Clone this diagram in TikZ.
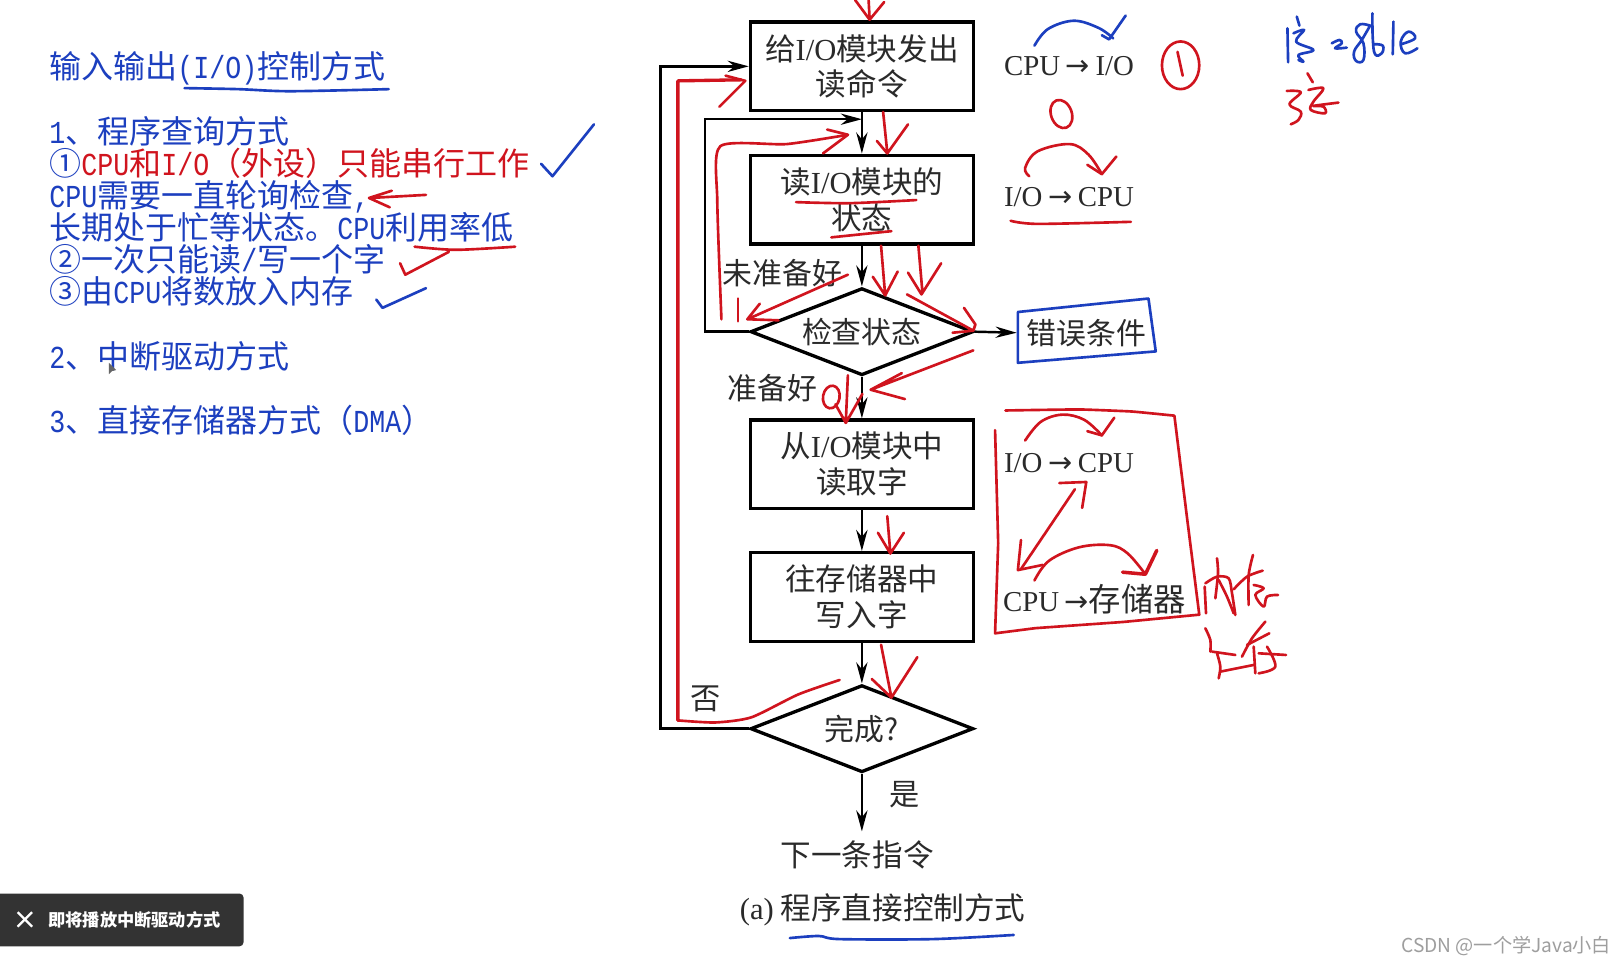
\documentclass[tikz,border=0pt]{standalone}
\usepackage{fontspec}
\setmainfont{Noto Sans CJK SC}
\newfontfamily\tm{Liberation Serif}
\newfontfamily\hf[FakeStretch=0.833]{Liberation Mono}
\newfontfamily\arf{DejaVu Sans}
\usetikzlibrary{shapes.geometric,arrows.meta}
\definecolor{pblue}{HTML}{1C3FBF}
\definecolor{pred}{HTML}{D0141E}
\definecolor{ink}{HTML}{2A2A2A}
\newcommand{\fs}[1]{\fontsize{#1}{#1}\selectfont}
\newcommand{\sidearrow}{\kern1.6pt{\arf →}\kern1.6pt}
\tikzset{
  hr/.style={draw=pred,line width=.75pt,line cap=round,line join=round},
  hb/.style={draw=pblue,line width=.75pt,line cap=round,line join=round},
  leftline/.style={anchor=west,inner sep=0pt,text=pblue,font=\fs{9.1},text height=7.8pt,text depth=1.3pt},
  stepbox/.style={draw=black,line width=.95pt,inner sep=0pt,minimum width=2.228cm,minimum height=.886cm,align=center,text=ink,font=\fs{8.7}},
  decide/.style={diamond,draw=black,line width=.95pt,inner sep=0pt,aspect=2.56,minimum width=2.228cm,minimum height=.871cm,text=ink,font=\fs{8.5}},
  lbl/.style={inner sep=0pt,text=ink,font=\fs{8.6}},
  side/.style={inner sep=0pt,anchor=west,text=ink,font=\fs{8.2}\tm},
  conn/.style={draw=black,line width=.7pt,-{Stealth[length=6pt,width=3.2pt]}},
}
\begin{document}
\begin{tikzpicture}[x=0.010365cm,y=-0.010365cm]
\path[use as bounding box,fill=white] (0,0) rectangle (1560,926.2);

% --- left text
\node[leftline] (t0) at (47,65) {输入输出{\hf (I/O)}控制方式};
\node[leftline] (t1) at (47,127) {{\hf 1}、程序查询方式};
\node[leftline] (t2) at (47,158) {①\textcolor{pred}{{\hf CPU}和{\hf I/O}（外设）只能串行工作}};
\node[leftline] (t3) at (47,189) {{\hf CPU}需要一直轮询检查{\hf ,}};
\node[leftline] (t4) at (47,220) {长期处于忙等状态。{\hf CPU}利用率低};
\node[leftline] (t5) at (47,251) {②一次只能读{\hf /}写一个字};
\node[leftline] (t6) at (47,282) {③由{\hf CPU}将数放入内存};
\node[leftline] (t7) at (47,344) {{\hf 2}、中断驱动方式};
\node[leftline] (t8) at (47,406) {{\hf 3}、直接存储器方式（{\hf DMA}）};

% --- flow chart
\node[stepbox] (b1) at (831.5,64) {给{\tm I/O}模块发出\\[1.5pt]读命令};
\node[stepbox] (b2) at (831.5,192.5) {读{\tm I/O}模块的\\[1.5pt]状态};
\node[decide] (d1) at (831.5,320) {检查状态};
\node[stepbox] (b3) at (831.5,448) {从{\tm I/O}模块中\\[1.5pt]读取字};
\node[stepbox] (b4) at (831.5,576) {往存储器中\\[1.5pt]写入字};
\node[decide] (d2) at (831.5,703) {完成?};
\node[lbl,font=\fs{8.5},inner xsep=2.6pt] (err) at (1048,321) {错误条件};
\node[lbl,font=\fs{8.7},inner ysep=2.5pt] (nxt) at (827,825) {下一条指令};
\node[lbl,font=\fs{8.7}] (cap) at (851.5,878) {{\tm (a)} 程序直接控制方式};
\node[lbl,font=\fs{8.5}] (no1) at (755,263) {未准备好};
\node[lbl,font=\fs{8.5}] (ok1) at (745,374) {准备好};
\node[lbl] (no2) at (681,674) {否};
\node[lbl] (yes) at (873,767) {是};
\coordinate (m1) at (831.5,115);

\draw[conn] (b1.south) -- (b2.north);
\draw[conn] (b2.south) -- (d1.north);
\draw[conn] (d1.south) -- (b3.north);
\draw[conn] (b3.south) -- (b4.north);
\draw[conn] (b4.south) -- (d2.north);
\draw[conn] (d2.south) -- (d2.south |- nxt.north);
\draw[conn] (d1.east) -- (err.west);
\draw[conn] (d1.west) -- ++(-42,0) |- (m1);
\draw[conn] (d2.west) -- ++(-85,0) |- (b1.west);

% --- side labels
\node[side] (s1) at (968,64) {CPU\sidearrow I/O};
\node[side] (s2) at (968,190) {I/O\sidearrow CPU};
\node[side] (s3) at (968,447) {I/O\sidearrow CPU};
\node[side] (s4) at (967,578) {CPU\kern1.6pt{\arf →}{\rmfamily\fs{9.2}存储器}};

% --- hand marks, left
\draw[hb] plot[smooth,tension=.5] coordinates {(178,85)(230,86)(280,88)(375,86)};
\draw[hb] (522,158) -- (533,170) -- (573,120);
\draw[hr] (411,188) -- (357,191) (378,184) -- (356,191) -- (376,200);
\draw[hr] plot[smooth,tension=.5] coordinates {(400,238)(440,241)(497,238)};
\draw[hr] (386,254) -- (391,265) -- (433,243);
\draw[hb] (363,289) -- (369,297) -- (411,278);
\fill[black!60] (105,350) -- (105,361) -- (108,358) -- (112,357) -- cycle;

% --- hand marks, chart
\draw[hr] (838,0) -- (839,19) (825,0) -- (839,19) -- (853,2);
\draw[hb] plot[smooth,tension=.6] coordinates {(998,44)(1011,28)(1036,20)(1060,27)(1074,37)};
\draw[hb] (1063,34) -- (1070,38) -- (1086,15);
\draw[hr] (1139,63) ellipse [x radius=18,y radius=23];
\draw[hr] (1136,50) -- (1141,73);
\draw[hr,rotate around={20:(1024,110)}] (1024,110) ellipse [x radius=10,y radius=14];
\draw[hr] plot[smooth,tension=.6] coordinates {(993,170)(989,162)(1001,146)(1032,139)(1050,149)(1063,168)};
\draw[hr] (1049,159) -- (1063,168) -- (1077,151);
\draw[hr] plot[smooth,tension=.5] coordinates {(975,213)(1001,216)(1091,214)};
\draw[hr] plot[smooth,tension=.5] coordinates {(768,195)(820,196)(884,193)};
\draw[hr] (802,229) -- (860,223);
\draw[hr] (852,108) -- (856,147) (846,136) -- (856,148) -- (876,120);
\draw[hr] plot[smooth,tension=.4] coordinates {(696,308)(692,194)(695,141)(759,139)(818,130)};
\draw[hr] (798,125) -- (818,130) -- (794,148);
\draw[hr] plot[smooth,tension=.4] coordinates {(810,656)(770,670)(725,692)(690,697)(654,695)};
\draw[hr,line width=.95pt] (654,695) -- (654,78) -- (715,77);
\draw[hr] (700,73) -- (719,78) -- (694,103);
\draw[hr] (712,288) -- (712,310);
\draw[hr] (818,265) -- (721,308) (733,293) -- (721,308) -- (751,309);
\draw[hr] (850,237) -- (854,285) (842,267) -- (854,285) -- (866,262);
\draw[hr] (886,237) -- (890,283) (876,263) -- (889,284) -- (908,254);
\draw[hr] (875,284) -- (939,319) (930,297) -- (941,313) -- (939,319) -- (919,321);
\draw[hr] (939,338) -- (840,376) (870,360) -- (840,376) -- (873,385);
\draw[hr,rotate around={-10:(802,383)}] (802,383) ellipse [x radius=8,y radius=11];
\draw[hr] (818,362) -- (816,407) (806,390) -- (816,408) -- (832,380);
\draw[hr] (856,498) -- (859,534) (847,514) -- (859,534) -- (872,514);
\draw[hr] (850,622) -- (860,673) (841,655) -- (860,673) -- (885,634);
\draw[hb] (982,301) -- (1108,288) -- (1115,339) -- (982,350) -- cycle;
\draw[hb] plot[smooth,tension=.5] coordinates {(762,905)(790,903)(810,906)(900,906)(978,902)};

% --- red frame and content
\draw[hr] plot[smooth,tension=.2] coordinates {(970,396)(1041,395)(1092,397)(1133,401)} -- (1145,498) -- (1157,593) -- (1084,600) -- (999,606) -- (960,611) -- (963,524) -- (960,415);
\draw[hr] plot[smooth,tension=.6] coordinates {(989,425)(1004,407)(1025,400)(1046,405)(1063,420)};
\draw[hr] (1049,416) -- (1063,420) -- (1075,403);
\draw[hr] (1037,472) -- (985,549);
\draw[hr] (1022,466) -- (1048,465) -- (1044,490);
\draw[hr] (985,521) -- (982,550) -- (1006,545);
\draw[hr] plot[smooth,tension=.6] coordinates {(998,560)(1012,541)(1041,528)(1071,526)(1088,534)(1105,554)};
\draw[hr,line width=1pt] (1083,552) -- (1105,554) -- (1116,531);

% --- handwriting: 内存 主存
\begin{scope}[shift={(1150,530.6)},scale=.3215]
\draw[hr] (38,110) -- (42,190);
\draw[hr] plot[smooth,tension=.5] coordinates {(40,100)(75,80)(110,85)(120,130)(130,195)};
\draw[hr] plot[smooth,tension=.5] coordinates {(75,25)(78,70)(70,145)};
\draw[hr] plot[smooth,tension=.5] coordinates {(80,90)(105,140)(125,190)};
\draw[hr] plot[smooth,tension=.5] coordinates {(125,118)(165,80)(212,62)};
\draw[hr] plot[smooth,tension=.5] coordinates {(183,15)(170,75)(170,165)};
\draw[hr] plot[smooth,tension=.6] coordinates {(185,105)(215,115)(190,135)(215,170)(225,140)(258,135)};
\draw[hr] plot[smooth,tension=.5] coordinates {(40,235)(55,270)(55,305)};
\draw[hr] (60,305) -- (130,315);
\draw[hr] plot[smooth,tension=.5] coordinates {(75,310)(85,350)(80,385)};
\draw[hr] (85,365) -- (185,345);
\draw[hr] plot[smooth,tension=.5] coordinates {(220,215)(180,265)(150,320)};
\draw[hr] (165,285) -- (232,250);
\draw[hr] (185,290) -- (190,370);
\draw[hr] (200,310) -- (282,315);
\draw[hr] plot[smooth,tension=.6] coordinates {(225,290)(250,350)(200,370)};
\end{scope}

% --- handwriting top right
\begin{scope}[shift={(1235,4.8)},scale=.3215]
\draw[hb] (22,70) -- (24,172);
\draw[hb] (50,35) -- (58,62);
\draw[hb] plot[smooth,tension=.6] coordinates {(40,85)(72,75)(48,110)(100,135)(55,150)(70,170)(55,165)};
\draw[hb] plot[smooth,tension=.6] coordinates {(155,115)(178,105)(185,115)(165,130)(200,128)};
\draw[hb] plot[smooth,tension=.7] coordinates {(270,62)(240,58)(228,80)(250,115)(250,165)(228,168)(222,140)(245,105)(270,62)};
\draw[hb] plot[smooth,tension=.7] coordinates {(277,25)(278,100)(285,148)(305,145)(308,122)(282,118)};
\draw[hb] (340,50) -- (338,148);
\draw[hb] plot[smooth,tension=.7] coordinates {(362,118)(405,100)(385,80)(362,110)(375,145)(412,130)};
\draw[hr] plot[smooth,tension=.6] coordinates {(20,258)(62,262)(28,298)(62,320)(55,345)(32,358)};
\draw[hr] (82,205) -- (98,232);
\draw[hr] plot[smooth,tension=.6] coordinates {(85,255)(130,250)(100,290)(92,315)(135,325)(130,305)(100,303)(175,293)};
\end{scope}

% --- player toast and watermark
\fill[fill=black!80] (0,862) -- (231,862) arc[start angle=-90,end angle=0,radius=4] -- (235,909) arc[start angle=0,end angle=90,radius=4] -- (0,913) -- cycle;
\draw[white,line width=.65pt] (17,880) -- (31,894) (31,880) -- (17,894);
\node[inner sep=0pt,anchor=west,text=white,font=\fs{4.9}\bfseries] (toast) at (46,887.5) {即将播放中断驱动方式};
\node[inner sep=0pt,anchor=east,text=black!38,font=\fs{5.45}] (mark) at (1555,913) {CSDN @一个学Java小白};
\end{tikzpicture}
\end{document}
